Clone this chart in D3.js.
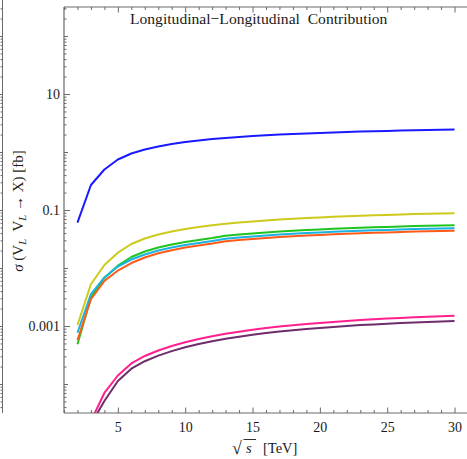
<!DOCTYPE html>
<html>
<head>
<meta charset="utf-8">
<script src="https://cdn.jsdelivr.net/npm/d3@7"></script>
<style>
  html, body { margin: 0; padding: 0; background: #fff; }
  svg { display: block; }
  text { font-family: "Liberation Serif", "DejaVu Serif", serif; fill: #1a1a1a; }
</style>
</head>
<body>
<svg id="chart" width="467" height="459"></svg>
<script>
// Collision energy sqrt(s) in TeV
const energies = [2, 3, 4, 5, 6, 7, 8, 9, 10, 11, 12, 13, 14, 15, 16, 17, 18, 19, 20, 21, 22, 23, 24, 25, 26, 27, 28, 29, 30];

// Cross sections sigma(V_L V_L -> X) in fb, one array per channel
const sigmaBlue = [0.0604, 0.270, 0.499, 0.743, 0.942, 1.104, 1.244, 1.374, 1.486, 1.579, 1.675, 1.743, 1.814, 1.888, 1.941, 1.995, 2.043, 2.093, 2.134, 2.178, 2.213, 2.249, 2.285, 2.311, 2.339, 2.367, 2.395, 2.414, 2.443];
const sigmaYellow = [0.00104, 0.00524, 0.01127, 0.01836, 0.02594, 0.03228, 0.03784, 0.04259, 0.04702, 0.05093, 0.05447, 0.05781, 0.06087, 0.06358, 0.06616, 0.06858, 0.07080, 0.07281, 0.07456, 0.07635, 0.07788, 0.07943, 0.08101, 0.08230, 0.08363, 0.08496, 0.08596, 0.08698, 0.08800];
const sigmaGreen = [0.000484, 0.00310, 0.00672, 0.01096, 0.01548, 0.01925, 0.02257, 0.02543, 0.02807, 0.03040, 0.03278, 0.03592, 0.03781, 0.03950, 0.04110, 0.04259, 0.04397, 0.04521, 0.04629, 0.04741, 0.04836, 0.04933, 0.05031, 0.05112, 0.05194, 0.05277, 0.05341, 0.05405, 0.05469];
const sigmaCyan = [0.000766, 0.00356, 0.00686, 0.01061, 0.01401, 0.01710, 0.02003, 0.02257, 0.02492, 0.02698, 0.02910, 0.03187, 0.03357, 0.03506, 0.03648, 0.03781, 0.03903, 0.04012, 0.04110, 0.04208, 0.04293, 0.04379, 0.04467, 0.04539, 0.04611, 0.04685, 0.04741, 0.04797, 0.04855];
const sigmaOrange = [0.000574, 0.00289, 0.00597, 0.00905, 0.01219, 0.01517, 0.01792, 0.02027, 0.02248, 0.02443, 0.02634, 0.02886, 0.03040, 0.03175, 0.03304, 0.03424, 0.03535, 0.03633, 0.03721, 0.03811, 0.03888, 0.03966, 0.04045, 0.04110, 0.04175, 0.04242, 0.04293, 0.04344, 0.04397];
const sigmaPink = [2.70e-6, 2.30e-5, 7.00e-5, 1.401e-4, 2.257e-4, 3.040e-4, 3.781e-4, 4.521e-4, 5.236e-4, 5.968e-4, 6.670e-4, 7.337e-4, 7.975e-4, 8.601e-4, 9.201e-4, 9.766e-4, 1.032e-3, 1.083e-3, 1.131e-3, 1.177e-3, 1.219e-3, 1.264e-3, 1.305e-3, 1.342e-3, 1.379e-3, 1.413e-3, 1.446e-3, 1.476e-3, 1.505e-3];
const sigmaPurple = [2.21e-6, 2.04e-5, 5.09e-5, 1.126e-4, 1.836e-4, 2.472e-4, 3.088e-4, 3.692e-4, 4.293e-4, 4.894e-4, 5.469e-4, 6.015e-4, 6.539e-4, 7.053e-4, 7.543e-4, 8.006e-4, 8.465e-4, 8.877e-4, 9.273e-4, 9.650e-4, 1.000e-3, 1.036e-3, 1.066e-3, 1.096e-3, 1.126e-3, 1.154e-3, 1.177e-3, 1.200e-3, 1.219e-3];

// Axis ticks
const xMajorTicks = [5, 10, 15, 20, 25, 30];
const yLabelTicks = [0.001, 0.1, 10];
const yDecadeTicks = [1e-4, 0.01, 1, 100];

const series = [
  { values: sigmaBlue,   color: "#1a1aff" },
  { values: sigmaYellow, color: "#cdca1c" },
  { values: sigmaGreen,  color: "#1fc41f" },
  { values: sigmaCyan,   color: "#1ab2e0" },
  { values: sigmaOrange, color: "#ff5a1a" },
  { values: sigmaPink,   color: "#ff1f8f" },
  { values: sigmaPurple, color: "#6d2c6a" }
];

(function draw() {
  const W = 467;
  const pLeft = 64, pRight = 468, pTop = 7, pBottom = 413;
  const svg = d3.select("#chart");

  const x = d3.scaleLinear().domain([1, 31]).range([pLeft, pRight]);
  const y = d3.scaleLog().domain([3.1623e-5, 316.23]).range([pBottom, pTop]);

  const frameColor = "#6a6a6a";

  // minor log ticks: 2..9 times each decade, inside the domain
  const yMinorTicks = [];
  for (let k = -5; k <= 2; k++) {
    for (let m = 2; m <= 9; m++) {
      const v = m * Math.pow(10, k);
      if (v >= y.domain()[0] && v <= y.domain()[1]) yMinorTicks.push(v);
    }
  }
  const xMinorTicks = d3.range(1, 32).filter(v => !xMajorTicks.includes(v));

  function styleAxis(g) {
    g.select(".domain").remove();
    g.selectAll(".tick line").attr("stroke", frameColor).attr("stroke-width", 1);
    g.selectAll(".tick text").attr("font-size", 14).attr("fill", "#1a1a1a")
      .attr("font-family", '"Liberation Serif", "DejaVu Serif", serif');
  }

  // neighbouring frame edge at the far left
  const edge = svg.append("g");
  edge.append("line").attr("x1", 2.5).attr("x2", 2.5).attr("y1", 0).attr("y2", pBottom)
    .attr("stroke", frameColor).attr("stroke-width", 1);
  edge.append("g").attr("transform", "translate(2.5,0)")
    .call(d3.axisLeft(y).tickValues(yMinorTicks).tickSize(2).tickFormat(""))
    .call(styleAxis);
  edge.append("g").attr("transform", "translate(2.5,0)")
    .call(d3.axisLeft(y).tickValues(yLabelTicks.concat(yDecadeTicks)).tickSize(3).tickFormat(""))
    .call(styleAxis);

  // curves, clipped to the plot frame
  svg.append("defs").append("clipPath").attr("id", "plotClip")
    .append("rect").attr("x", pLeft).attr("y", pTop).attr("width", pRight - pLeft).attr("height", pBottom - pTop);

  const line = d3.line().x((d, i) => x(energies[i])).y(d => y(d));
  const curves = svg.append("g").attr("clip-path", "url(#plotClip)");
  series.forEach(s => {
    curves.append("path")
      .datum(s.values)
      .attr("fill", "none")
      .attr("stroke", s.color)
      .attr("stroke-width", 2)
      .attr("stroke-linejoin", "round")
      .attr("d", line);
  });

  // bottom axis
  svg.append("g").attr("transform", `translate(0,${pBottom})`)
    .call(d3.axisBottom(x).tickValues(xMinorTicks).tickSize(-3).tickFormat(""))
    .call(styleAxis);
  svg.append("g").attr("transform", `translate(0,${pBottom})`)
    .call(d3.axisBottom(x).tickValues(xMajorTicks).tickSize(-5.5).tickPadding(9).tickFormat(d3.format("d")))
    .call(styleAxis);

  // top axis
  svg.append("g").attr("transform", `translate(0,${pTop})`)
    .call(d3.axisTop(x).tickValues(xMinorTicks).tickSize(-3).tickFormat(""))
    .call(styleAxis);
  svg.append("g").attr("transform", `translate(0,${pTop})`)
    .call(d3.axisTop(x).tickValues(xMajorTicks).tickSize(-5.5).tickFormat(""))
    .call(styleAxis);

  // left axis
  svg.append("g").attr("transform", `translate(${pLeft},0)`)
    .call(d3.axisLeft(y).tickValues(yMinorTicks).tickSize(-2.5).tickFormat(""))
    .call(styleAxis);
  svg.append("g").attr("transform", `translate(${pLeft},0)`)
    .call(d3.axisLeft(y).tickValues(yDecadeTicks).tickSize(-4).tickFormat(""))
    .call(styleAxis);
  svg.append("g").attr("transform", `translate(${pLeft},0)`)
    .call(d3.axisLeft(y).tickValues(yLabelTicks).tickSize(-6).tickPadding(4).tickFormat(d => String(d)))
    .call(styleAxis);

  // frame lines
  svg.append("line").attr("x1", pLeft).attr("x2", pLeft).attr("y1", pTop).attr("y2", pBottom)
    .attr("stroke", frameColor).attr("stroke-width", 1.2);
  svg.append("line").attr("x1", pLeft).attr("x2", W).attr("y1", pBottom).attr("y2", pBottom)
    .attr("stroke", frameColor).attr("stroke-width", 1.2);
  svg.append("line").attr("x1", pLeft).attr("x2", W).attr("y1", pTop).attr("y2", pTop)
    .attr("stroke", frameColor).attr("stroke-width", 1.2);

  // title
  svg.append("text").attr("x", 130).attr("y", 24).attr("font-size", 15.6)
    .text("Longitudinal\u2212Longitudinal\u2002Contribution");

  // x-axis label: sqrt(s) [TeV]
  const xl = svg.append("g");
  xl.append("text").attr("x", 232).attr("y", 454).attr("font-size", 18).text("\u221A");
  xl.append("line").attr("x1", 243.5).attr("x2", 256).attr("y1", 439.5).attr("y2", 439.5)
    .attr("stroke", "#1a1a1a").attr("stroke-width", 0.9);
  xl.append("text").attr("x", 246).attr("y", 453).attr("font-size", 14.5).attr("font-style", "italic").text("s");
  xl.append("text").attr("x", 263).attr("y", 453).attr("font-size", 14.5).text("[TeV]");

  // y-axis label
  const yl = svg.append("text")
    .attr("transform", "translate(23,211) rotate(-90)")
    .attr("text-anchor", "middle")
    .attr("font-size", 15)
    .attr("xml:space", "preserve");
  yl.append("tspan").attr("font-style", "italic").text("\u03C3");
  yl.append("tspan").text(" (V");
  yl.append("tspan").attr("font-style", "italic").attr("font-size", 10.5).attr("dy", 3).text("L");
  yl.append("tspan").attr("dy", -3).text("\u2002V");
  yl.append("tspan").attr("font-style", "italic").attr("font-size", 10.5).attr("dy", 3).text("L");
  yl.append("tspan").attr("dy", -3).text(" \u2192 X) [fb]");
})();
</script>
</body>
</html>
